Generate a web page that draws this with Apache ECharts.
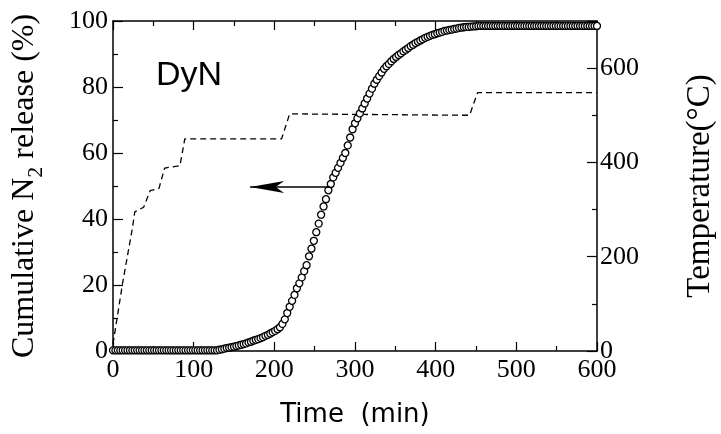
<!DOCTYPE html>
<html>
<head>
<meta charset="utf-8">
<script src="https://cdn.jsdelivr.net/npm/echarts@6/dist/echarts.min.js"></script>
<style>html,body{margin:0;padding:0;background:#fff;}#c{width:721px;height:434px;}</style>
</head>
<body>
<div id="c"></div>
<script>
// Cumulative N2 release (%) vs time (min), sampled every 3 min
var releaseTime = [
  0,3,6,9,12,15,18,21,24,27,30,33,36,39,42,45,48,51,54,57,60,63,66,69,72,75,78,81,84,87,90,93,96,99,
  102,105,108,111,114,117,120,123,126,129,
  132,135,138,141,144,147,150,153,156,159,162,165,168,171,174,177,180,183,186,189,192,195,198,
  201,204,207,210,213,216,219,222,225,228,231,234,237,240,243,246,249,252,255,258,261,264,267,270,
  273,276,279,282,285,288,291,294,297,300,303,306,309,312,315,318,321,324,327,330,333,336,339,342,
  345,348,351,354,357,360,363,366,369,372,375,378,381,384,387,390,393,396,399,402,405,408,411,414,
  417,420,423,426,429,432,435,438,441,444,447,450,
  453,456,459,462,465,468,471,474,477,480,483,486,489,492,495,498,501,504,507,510,513,516,519,522,525,
  528,531,534,537,540,543,546,549,552,555,558,561,564,567,570,573,576,579,582,585,588,591,594,597,600
];
var releaseValue = [
  0.2,0.2,0.2,0.2,0.2,0.2,0.2,0.2,0.2,0.2,0.2,0.2,0.2,0.2,0.2,0.2,0.2,0.2,0.2,0.2,0.2,0.2,0.2,0.2,0.2,0.2,0.2,0.2,0.2,0.2,0.2,0.2,0.2,0.2,
  0.2,0.2,0.2,0.2,0.2,0.2,0.2,0.2,0.2,0.2,
  0.4,0.5,0.7,0.9,1.0,1.15,1.3,1.5,1.7,1.9,2.1,2.3,2.6,2.8,3.1,3.4,3.6,3.9,4.2,4.6,4.9,5.3,5.7,
  6.1,6.6,7.2,8.2,9.6,11.5,13.4,15.2,17.0,19.0,20.5,22.3,24.2,26.0,28.7,31.0,33.4,36.0,38.6,41.3,43.8,46.0,48.7,50.6,
  52.6,54.0,55.5,57.0,58.5,60.0,62.3,64.7,67.2,69.0,70.5,72.0,73.5,75.0,76.5,78.0,79.5,81.0,82.2,83.3,84.4,85.5,86.3,87.0,
  87.8,88.5,89.1,89.7,90.2,90.8,91.3,91.8,92.4,92.8,93.3,93.7,94.1,94.5,94.9,95.2,95.5,95.8,96.0,96.3,96.5,96.7,97.0,97.1,
  97.3,97.4,97.6,97.7,97.9,98.0,98.1,98.2,98.2,98.3,98.4,98.4,
  98.5,98.5,98.5,98.5,98.5,98.5,98.5,98.5,98.5,98.5,98.5,98.5,98.5,98.5,98.5,98.5,98.5,98.5,98.5,98.5,98.5,98.5,98.5,98.5,98.5,
  98.5,98.5,98.5,98.5,98.5,98.5,98.5,98.5,98.5,98.5,98.5,98.5,98.5,98.5,98.5,98.5,98.5,98.5,98.5,98.5,98.5,98.5,98.5,98.5,98.5
];
// Temperature program (°C)
var tempTime  = [0, 12, 24, 27, 38, 46, 57, 64, 83, 89, 209, 219, 442, 452, 600];
var tempValue = [15, 145, 260, 295, 305, 340, 345, 388, 393, 450, 450, 503, 500, 548, 548];
// Arrow annotation: from curve point to the left (x in min, y in %)
var arrowFrom = [269, 49.7];
var arrowTo = [170, 49.7];

var xTicks = { min: 0, max: 600, interval: 100 };
var leftTicks = { min: 0, max: 100, interval: 20 };
var rightTicks = { min: 0, max: 700, interval: 200 };

var releaseData = releaseTime.map(function (t, i) { return [t, releaseValue[i]]; });
var tempData = tempTime.map(function (t, i) { return [t, tempValue[i]]; });

var serif = 'Liberation Serif';
var chart = echarts.init(document.getElementById('c'), null, { renderer: 'canvas' });
var axisLine = { show: true, onZero: false, lineStyle: { color: '#000', width: 1.5 } };
var tickStyle = { color: '#000', width: 1.2 };
chart.setOption({
  animation: false,
  backgroundColor: '#fff',
  title: {
    text: 'DyN', left: 151, top: 54,
    textStyle: { fontFamily: 'Liberation Sans', fontSize: 34, fontWeight: 'normal', color: '#000' }
  },
  grid: { left: 113, right: 124, top: 21, bottom: 83, containLabel: false, outerBoundsMode: 'none' },
  xAxis: [{
    type: 'value', min: xTicks.min, max: xTicks.max, interval: xTicks.interval,
    position: 'bottom',
    name: 'Time  (min)', nameLocation: 'middle', nameGap: 51,
    nameTextStyle: { fontFamily: 'DejaVu Sans', fontSize: 26, color: '#000' },
    axisLine: axisLine,
    axisTick: { inside: true, length: 9, lineStyle: tickStyle },
    minorTick: { show: true, splitNumber: 2, length: 5, lineStyle: tickStyle },
    axisLabel: { margin: 6, fontFamily: serif, fontSize: 26, color: '#000' },
    splitLine: { show: false }
  }, {
    type: 'value', min: xTicks.min, max: xTicks.max, interval: xTicks.interval,
    position: 'top',
    axisLine: axisLine,
    axisTick: { inside: true, length: 9, lineStyle: tickStyle },
    minorTick: { show: true, splitNumber: 2, length: 5, lineStyle: tickStyle },
    axisLabel: { show: false },
    splitLine: { show: false }
  }],
  yAxis: [{
    type: 'value', min: leftTicks.min, max: leftTicks.max, interval: leftTicks.interval,
    position: 'left',
    name: 'Cumulative N{sub|2} release (%)', nameLocation: 'middle', nameGap: 66,
    nameTextStyle: {
      fontFamily: serif, fontSize: 32, color: '#000', lineHeight: 44,
      rich: { sub: { fontFamily: serif, fontSize: 22, lineHeight: 22, verticalAlign: 'bottom', color: '#000' } }
    },
    axisLine: axisLine,
    axisTick: { inside: true, length: 10, lineStyle: tickStyle },
    minorTick: { show: true, splitNumber: 2, length: 5, lineStyle: tickStyle },
    axisLabel: { margin: 5, fontFamily: serif, fontSize: 26, color: '#000' },
    splitLine: { show: false }
  }, {
    type: 'value', min: rightTicks.min, max: rightTicks.max, interval: rightTicks.interval,
    position: 'right',
    name: 'Temperature(°C)', nameLocation: 'middle', nameGap: 103,
    nameTextStyle: { fontFamily: serif, fontSize: 33, color: '#000', verticalAlign: 'middle' },
    axisLine: axisLine,
    axisTick: { inside: true, length: 10, lineStyle: tickStyle },
    minorTick: { show: true, splitNumber: 2, length: 5, lineStyle: tickStyle },
    axisLabel: { margin: 3, fontFamily: serif, fontSize: 26, color: '#000', showMaxLabel: false },
    splitLine: { show: false }
  }],
  series: [{
    type: 'line', name: 'Temperature', xAxisIndex: 0, yAxisIndex: 1,
    data: tempData, showSymbol: false, symbol: 'none',
    lineStyle: { color: '#000', width: 1.3, type: [6, 4] },
    z: 2
  }, {
    type: 'scatter', name: 'Release', xAxisIndex: 0, yAxisIndex: 0,
    data: releaseData, symbol: 'circle', symbolSize: 7,
    itemStyle: { color: '#fff', borderColor: '#000', borderWidth: 1.3, opacity: 1 },
    z: 3,
    markLine: {
      silent: true, animation: false,
      symbol: ['none', 'arrow'], symbolSize: [9, 34],
      label: { show: false },
      lineStyle: { color: '#000', width: 1.5, type: 'solid' },
      data: [[{ coord: arrowFrom }, { coord: arrowTo }]]
    }
  }]
});
</script>
</body>
</html>
